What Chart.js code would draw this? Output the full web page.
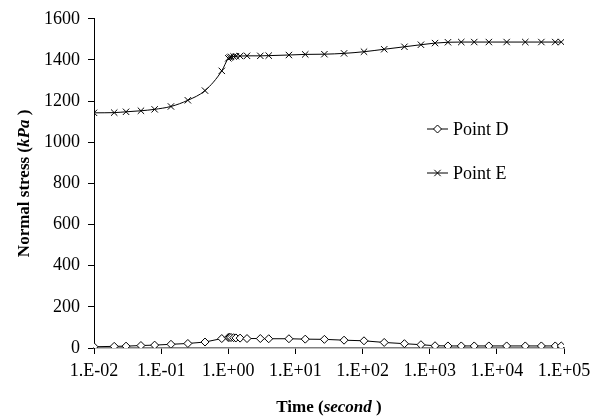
<!DOCTYPE html>
<html>
<head>
<meta charset="utf-8">
<script src="https://cdn.jsdelivr.net/npm/chart.js@4/dist/chart.umd.min.js"></script>
<style>
html,body{margin:0;padding:0;background:#fff;}
#wrap{position:relative;width:600px;height:419px;}
</style>
</head>
<body>
<div id="wrap"><canvas id="c" width="600" height="419"></canvas></div>
<script>
// Data
const timeSeconds = [0.01, 0.02, 0.03, 0.05, 0.08, 0.14, 0.25, 0.45, 0.8, 1.0, 1.05, 1.1, 1.2, 1.3, 1.5, 1.9, 3, 4, 8, 14, 27, 53, 105, 210, 420, 740, 1200, 1870, 2950, 4600, 7600, 14000, 26500, 46000, 74000, 91000];
const pointD = [6, 8, 9, 12, 14, 18, 22, 29, 46, 51, 52, 51, 50, 49, 48, 46, 46, 45, 45, 43, 42, 38, 35, 27, 21, 16, 11, 10, 10, 10, 10, 10, 10, 10, 10, 10];
const pointE = [1143, 1144, 1148, 1153, 1160, 1174, 1204, 1251, 1347, 1408, 1412, 1415, 1417, 1418, 1419, 1420, 1420, 1421, 1424, 1427, 1428, 1432, 1440, 1452, 1464, 1474, 1482, 1486, 1487, 1487, 1487, 1487, 1487, 1487, 1487, 1487];
const xTickValues = [1e-2, 1e-1, 1e0, 1e1, 1e2, 1e3, 1e4, 1e5];
const yTickValues = [0, 200, 400, 600, 800, 1000, 1200, 1400, 1600];
const seriesNames = ["Point D", "Point E"];
const xTitleParts = [["Time (", false], ["second", true], [" )", false]];
const yTitleParts = [["Normal stress (", false], ["kPa", true], [" )", false]];

const FONT = "'Liberation Serif', 'Times New Roman', serif";

function fmtExp(v) {
  const e = Math.round(Math.log10(v));
  const s = e < 0 ? "-" : "+";
  const a = Math.abs(e);
  return "1.E" + s + (a < 10 ? "0" + a : "" + a);
}

function toXY(arr) {
  return timeSeconds.map((t, i) => ({x: t, y: arr[i]}));
}

function drawParts(ctx, parts, size) {
  let total = 0;
  const widths = parts.map(([txt, it]) => {
    ctx.font = (it ? "italic " : "") + "bold " + size + "px " + FONT;
    const w = ctx.measureText(txt).width;
    total += w;
    return w;
  });
  let x = -total / 2;
  parts.forEach(([txt, it], i) => {
    ctx.font = (it ? "italic " : "") + "bold " + size + "px " + FONT;
    ctx.fillText(txt, x, 0);
    x += widths[i];
  });
}

const titlesPlugin = {
  id: "titles",
  afterDraw(chart) {
    const ctx = chart.ctx;
    const ca = chart.chartArea;
    ctx.save();
    ctx.fillStyle = "#000";
    ctx.textBaseline = "middle";
    ctx.textAlign = "left";
    ctx.translate((ca.left + ca.right) / 2, 408);
    drawParts(ctx, xTitleParts, 17);
    ctx.restore();

    ctx.save();
    ctx.fillStyle = "#000";
    ctx.textBaseline = "middle";
    ctx.textAlign = "left";
    ctx.translate(25, (ca.top + ca.bottom) / 2);
    ctx.rotate(-Math.PI / 2);
    drawParts(ctx, yTitleParts, 17);
    ctx.restore();
  }
};

const legendPlugin = {
  id: "customLegend",
  afterDraw(chart) {
    const ctx = chart.ctx;
    const items = [
      {name: seriesNames[0], y: 129, ds: 0},
      {name: seriesNames[1], y: 173, ds: 1}
    ];
    items.forEach(it => {
      const ds = chart.data.datasets[it.ds];
      ctx.save();
      ctx.strokeStyle = "#000";
      ctx.lineWidth = 1;
      ctx.beginPath();
      ctx.moveTo(427, it.y);
      ctx.lineTo(448, it.y);
      ctx.stroke();
      ctx.fillStyle = "#fff";
      ctx.strokeStyle = "#000";
      Chart.helpers.drawPoint(ctx, {
        pointStyle: ds.pointStyle,
        radius: ds.pointRadius,
        borderWidth: ds.pointBorderWidth,
        rotation: 0
      }, 437.5, it.y);
      ctx.fillStyle = "#000";
      ctx.font = "18px " + FONT;
      ctx.textBaseline = "middle";
      ctx.textAlign = "left";
      ctx.fillText(it.name, 453, it.y + 1);
      ctx.restore();
    });
  }
};

new Chart(document.getElementById("c"), {
  type: "line",
  data: {
    datasets: [
      {
        label: seriesNames[0],
        data: toXY(pointD),
        borderColor: "#000",
        borderWidth: 1,
        backgroundColor: "#fff",
        pointStyle: "rectRot",
        pointRadius: 4,
        pointBorderWidth: 1,
        pointBackgroundColor: "#fff",
        pointBorderColor: "#000",
        tension: 0
      },
      {
        label: seriesNames[1],
        data: toXY(pointE),
        borderColor: "#000",
        borderWidth: 1,
        backgroundColor: "#000",
        pointStyle: "crossRot",
        pointRadius: 4.5,
        pointBorderWidth: 1,
        pointBorderColor: "#000",
        cubicInterpolationMode: "monotone"
      }
    ]
  },
  options: {
    responsive: false,
    animation: false,
    events: [],
    layout: {autoPadding: false, padding: {left: 0, right: 36, top: 15, bottom: 0}},
    plugins: {legend: {display: false}, tooltip: {enabled: false}, title: {display: false}},
    scales: {
      x: {
        type: "logarithmic",
        min: 0.01,
        max: 100000,
        afterBuildTicks(scale) { scale.ticks = xTickValues.map(v => ({value: v})); },
        afterFit(scale) { scale.height = 71; },
        ticks: {
          color: "#000",
          font: {family: FONT, size: 18},
          padding: 6,
          maxRotation: 0,
          autoSkip: false,
          callback: (v) => fmtExp(v)
        },
        grid: {display: true, drawOnChartArea: false, drawTicks: true, tickLength: 6, color: "#000"},
        border: {display: true, color: "#808080", width: 1.5}
      },
      y: {
        type: "linear",
        min: 0,
        max: 1600,
        afterBuildTicks(scale) { scale.ticks = yTickValues.map(v => ({value: v})); },
        afterFit(scale) { scale.width = 94; },
        ticks: {
          color: "#000",
          font: {family: FONT, size: 18},
          padding: 8,
          callback: (v) => "" + v
        },
        grid: {display: true, drawOnChartArea: false, drawTicks: true, tickLength: 6, color: "#000"},
        border: {display: true, color: "#000", width: 1}
      }
    }
  },
  plugins: [titlesPlugin, legendPlugin]
});
</script>
</body>
</html>
